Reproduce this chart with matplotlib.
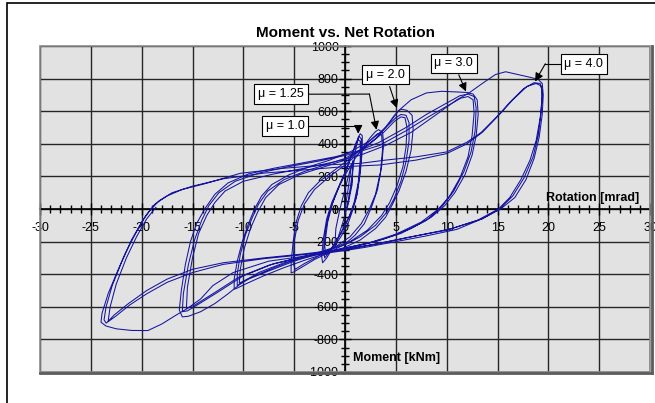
import numpy as np
import matplotlib
matplotlib.use("Agg")
import matplotlib.pyplot as plt
from matplotlib.ticker import MultipleLocator
from matplotlib.patches import Rectangle

plt.rcParams['font.family'] = ['Liberation Sans', 'DejaVu Sans']
plt.rcParams['axes.unicode_minus'] = False

# hysteresis path: (rotation mrad, moment kNm)
loop_elastic = [(0, 0), (0.3, 120), (0.6, 250), (0.8, 300), (0.7, 180), (0.3, 40), (-0.2, -80),
                (-0.7, -180), (-1.0, -230), (-0.9, -120), (-0.5, 0), (0, 120), (0.5, 240),
                (0.8, 290), (0.7, 150), (0.2, 0)]

loop_mu1 = [(0.2, 0), (0.5, 120), (0.8, 260), (1.1, 380), (1.3, 440), (1.5, 462), (1.7, 450),
            (1.7, 360), (1.5, 220), (1.2, 90), (0.8, 0), (0.3, -90), (-0.4, -170), (-1.2, -240),
            (-1.8, -300), (-2.2, -330), (-2.3, -290), (-2.1, -170), (-1.8, -60), (-1.3, 40),
            (-0.6, 140), (0.1, 240), (0.7, 340), (1.1, 410), (1.4, 445), (1.6, 430), (1.6, 330),
            (1.4, 190), (1.1, 70), (0.6, -20), (0, -100), (-0.8, -190), (-1.5, -260), (-2.0, -300),
            (-2.1, -250), (-1.9, -120), (-1.5, -10), (-0.9, 90), (-0.2, 190), (0.5, 300),
            (1.0, 380), (1.3, 425), (1.5, 415), (1.5, 300), (1.3, 160), (0.9, 40), (0.4, -50),
            (-0.4, -150), (-1.2, -230), (-1.9, -280), (-2.0, -220), (-1.7, -80), (-1.2, 40),
            (-0.5, 150), (0.2, 230)]

loop_mu125 = [(0.2, 230), (1.0, 310), (1.8, 380), (2.5, 440), (3.0, 475), (3.3, 487), (3.7, 470),
              (3.8, 400), (3.6, 260), (3.2, 120), (2.6, 10), (1.9, -90), (1.0, -160), (0, -215),
              (-1.5, -265), (-3.0, -310), (-4.2, -355), (-5.0, -385), (-5.3, -392), (-5.3, -330),
              (-5.1, -200), (-4.8, -80), (-4.3, 20), (-3.6, 100), (-2.5, 170), (-1.0, 240),
              (0.5, 310), (1.8, 380), (2.7, 435), (3.2, 462), (3.6, 455), (3.7, 370), (3.5, 230),
              (3.0, 90), (2.4, 0), (1.6, -90), (0.5, -170), (-1.0, -235), (-2.5, -285),
              (-4.0, -335), (-4.9, -370), (-5.1, -330), (-5.0, -200), (-4.6, -70), (-4.0, 30),
              (-3.0, 120), (-1.5, 200), (0, 270)]

loop_mu2 = [(0, 270), (1.5, 350), (3.0, 430), (4.0, 500), (4.8, 570), (5.3, 605), (5.6, 612),
            (6.1, 605), (6.6, 575), (6.7, 490), (6.5, 360), (6.0, 230), (5.3, 110), (4.6, 20),
            (4.0, -50), (3.0, -120), (1.5, -190), (0, -235), (-2, -275), (-4, -315), (-6, -360),
            (-8, -410), (-9.6, -455), (-10.6, -485), (-10.9, -492), (-10.9, -430), (-10.6, -320),
            (-10.1, -200), (-9.5, -90), (-8.9, 0), (-8.2, 80), (-7.2, 150), (-5.5, 210),
            (-3.5, 260), (-1.5, 300), (0.5, 350), (2.5, 420), (4.0, 500), (5.0, 560), (5.5, 580),
            (6.0, 575), (6.3, 530), (6.3, 420), (6.0, 290), (5.5, 170), (4.8, 60), (4.1, -20),
            (3.0, -100), (1.5, -170), (0, -220), (-2.5, -270), (-5, -320), (-7.5, -380),
            (-9.5, -430), (-10.6, -470), (-10.6, -400), (-10.3, -280), (-9.8, -160), (-9.1, -50),
            (-8.5, 30), (-7.6, 110), (-6, 180), (-4, 230), (-2, 270), (0, 310), (2, 380),
            (3.8, 470), (4.9, 540), (5.5, 565), (5.9, 560), (6.1, 500), (6.0, 380), (5.7, 260),
            (5.1, 140), (4.4, 40), (3.6, -40), (2.2, -130), (0.5, -200), (-2, -255), (-4.5, -300),
            (-7, -360), (-9.3, -420), (-10.4, -455), (-10.3, -370), (-9.9, -240), (-9.3, -120),
            (-8.6, -20), (-7.8, 70), (-6.5, 150), (-4.5, 210), (-2, 260), (0, 300)]

loop_mu3 = [(0, 300), (1.5, 360), (3, 430), (4.5, 540), (5.3, 605), (6.5, 670), (8.0, 712),
            (9.5, 722), (11.0, 718), (12.0, 715), (12.6, 705), (13.0, 670), (13.1, 580),
            (12.9, 450), (12.5, 330), (11.8, 210), (10.8, 100), (9.8, 20), (8.5, -50),
            (6.5, -120), (4.0, -180), (2.0, -215), (0, -245), (-3, -285), (-6, -330),
            (-8.5, -390), (-10.3, -460), (-11.5, -520), (-12.8, -580), (-14.2, -630),
            (-15.4, -658), (-16.0, -662), (-16.3, -620), (-16.1, -500), (-15.7, -340),
            (-15.2, -200), (-14.6, -90), (-13.8, 0), (-12.8, 90), (-11.5, 160), (-9.5, 215),
            (-7, 250), (-4, 285), (-1, 320), (1.5, 360), (3.4, 410), (6, 500), (8, 580),
            (10, 650), (11.3, 695), (12.1, 705), (12.7, 690), (12.9, 620), (12.8, 480),
            (12.4, 350), (11.7, 230), (10.7, 110), (9.6, 20), (8.0, -70), (5.5, -150), (3, -200),
            (0, -240), (-3.5, -285), (-7, -335), (-10, -410), (-12.5, -510), (-14.3, -580),
            (-15.5, -625), (-16.0, -630), (-15.9, -520), (-15.4, -340), (-14.8, -190),
            (-14.1, -70), (-13.4, 20), (-12.4, 100), (-10.8, 170), (-8.5, 220), (-5.5, 260),
            (-2.5, 295), (0.5, 335), (3.4, 390), (6, 480), (8.2, 565), (10, 630), (11.4, 680),
            (12.1, 690), (12.6, 670), (12.7, 590), (12.5, 450), (12.1, 320), (11.3, 190),
            (10.3, 80), (9.2, 0), (7.5, -80), (5, -155), (2.5, -205), (0, -240), (-4, -290),
            (-7.5, -345), (-10.5, -420), (-13, -520), (-14.8, -590), (-15.6, -610),
            (-15.5, -480), (-15.0, -300), (-14.4, -150), (-13.6, -40), (-12.8, 40),
            (-11.8, 110), (-10, 170)]

loop_mu4 = [(-10, 170), (-7, 215), (-4, 250), (-1, 290), (1.5, 330), (4, 390), (6.5, 470),
            (9, 580), (11, 670), (12.2, 712), (13.5, 770), (14.8, 825), (15.8, 842), (17, 825),
            (18.2, 808), (19.0, 795), (19.4, 770), (19.5, 700), (19.4, 580), (19.1, 440),
            (18.6, 310), (17.8, 180), (16.7, 70), (15.3, 0), (13.5, -60), (11, -125), (8, -165),
            (5, -200), (2, -235), (0, -255), (-3.5, -285), (-7.5, -320), (-11, -390),
            (-13, -470), (-14.2, -552), (-15.5, -610), (-16.8, -658), (-18, -705),
            (-19.4, -746), (-21, -745), (-22.5, -735), (-23.5, -718), (-24.0, -695),
            (-23.9, -640), (-23.3, -520), (-22.5, -400), (-21.6, -270), (-20.6, -150),
            (-19.6, -40), (-18.7, 30), (-17.5, 80), (-16, 120), (-13.6, 158), (-10.3, 219),
            (-6, 250), (-2, 270), (1.5, 280), (4, 300), (7, 320), (10, 350), (12, 410),
            (13.4, 470), (15, 570), (16.3, 660), (17.6, 740), (18.6, 775), (19.2, 770),
            (19.4, 720), (19.3, 600), (19.0, 450), (18.5, 320), (17.6, 190), (16.5, 80),
            (15.2, 0), (13.5, -60), (10.5, -120), (7, -165), (3.5, -210), (0, -250), (-4, -280),
            (-8, -305), (-12, -340), (-15, -390), (-17.5, -450), (-19.5, -520), (-21.2, -590),
            (-22.6, -660), (-23.5, -700), (-23.7, -680), (-23.5, -600), (-22.9, -470),
            (-22, -330), (-21, -190), (-20, -80), (-19.2, -10), (-18.3, 50), (-17, 100),
            (-15, 140), (-12, 185), (-8, 220), (-4, 240), (0, 260), (3.4, 270), (7, 300),
            (10, 340), (12, 400), (13.5, 470), (15.2, 580), (16.5, 670), (17.9, 752),
            (18.8, 770), (19.3, 755), (19.4, 690), (19.2, 560), (18.8, 420), (18.2, 300),
            (17.3, 180), (16.2, 70), (15.1, 0), (13, -70), (10, -130), (6.5, -170), (3, -215),
            (0, -245), (-4, -275), (-8, -300), (-12, -330), (-15, -370), (-17.5, -430),
            (-19.5, -500), (-21.3, -580), (-22.7, -650), (-23.3, -690), (-23.1, -600),
            (-22.5, -460), (-21.5, -300), (-20.5, -170), (-19.5, -60), (-18.6, 10)]

# ductility labels: text, text box (x, y), bend point (x, y) or None, arrow tip (x, y)
mu_labels = ['\u03bc = 1.0', '\u03bc = 1.25', '\u03bc = 2.0', '\u03bc = 3.0', '\u03bc = 4.0']
mu_box = [(-5.9, 510), (-6.3, 704), (4.0, 824), (10.7, 894), (23.5, 891)]
mu_bend = [(1.3, 510), (2.4, 705), None, None, (19.7, 891)]
mu_tip = [(1.3, 462), (3.1, 486), (5.1, 619), (11.9, 721), (18.7, 782)]

fig = plt.figure(figsize=(6.55, 4.03), dpi=100)
ax = fig.add_axes([40 / 655, 1 - 372 / 403, 610 / 655, 326 / 403])
ax.set_facecolor('#e2e2e2')

for loop in [loop_elastic, loop_mu1, loop_mu125, loop_mu2, loop_mu3, loop_mu4]:
    pts = np.array(loop)
    ax.plot(pts[:, 0], pts[:, 1], color='#1414a0', lw=0.75, zorder=3)

ax.set_xlim(-30, 30)
ax.set_ylim(-1000, 1000)
ax.xaxis.set_major_locator(MultipleLocator(5))
ax.xaxis.set_minor_locator(MultipleLocator(1))
ax.yaxis.set_major_locator(MultipleLocator(200))
ax.yaxis.set_minor_locator(MultipleLocator(50))
ax.grid(which='major', color='#262626', lw=1.0)
ax.set_axisbelow(True)

ax.spines['left'].set_position(('data', 0))
ax.spines['bottom'].set_position(('data', 0))
ax.spines['top'].set_visible(False)
ax.spines['right'].set_visible(False)
for s in ['left', 'bottom']:
    ax.spines[s].set_color('black')
    ax.spines[s].set_linewidth(1.2)
    ax.spines[s].set_zorder(2.6)

ax.tick_params(which='both', direction='inout', colors='black', labelsize=9, width=1)
ax.tick_params(which='major', length=8)
ax.tick_params(which='minor', length=6)
ax.tick_params(axis='x', pad=5)
ax.tick_params(axis='y', pad=0.5)

# plot area frame with shadow
ax.add_patch(Rectangle((0, 0), 1, 1, transform=ax.transAxes, fill=False,
                       edgecolor='#8a8a8a', lw=1.2, clip_on=False, zorder=4))
ax.plot([1.003, 1.003], [-0.004, 1.0], transform=ax.transAxes, color='#5c5c5c', lw=2,
        clip_on=False, zorder=4)
ax.plot([0.0, 1.003], [-0.004, -0.004], transform=ax.transAxes, color='#5c5c5c', lw=2,
        clip_on=False, zorder=4)

# figure border (cut off at right and bottom)
fig.patches.append(Rectangle((7 / 655, -0.1), 1.1, 1.1 - 3 / 403, transform=fig.transFigure,
                             fill=False, edgecolor='black', lw=1.2))

fig.text(345 / 655, 1 - 33 / 403, 'Moment vs. Net Rotation', ha='center', va='center',
         fontsize=11, fontweight='bold')
ax.text(28.9, 68, 'Rotation [mrad]', ha='right', va='center', fontsize=9, fontweight='bold',
        zorder=5)
ax.text(0.8, -916, 'Moment [kNm]', ha='left', va='center', fontsize=9, fontweight='bold',
        zorder=5)

for lab, box, bend, tip in zip(mu_labels, mu_box, mu_bend, mu_tip):
    t = ax.text(box[0], box[1], lab, ha='center', va='center', fontsize=9, zorder=6,
                bbox=dict(boxstyle='square,pad=0.3', fc='white', ec='black', lw=0.8))
    start = box
    if bend is not None:
        ax.plot([box[0], bend[0]], [box[1], bend[1]], color='black', lw=0.8, zorder=5)
        start = bend
    ax.annotate('', xy=tip, xytext=start, zorder=5,
                arrowprops=dict(arrowstyle='-|>,head_length=0.5,head_width=0.25',
                                color='black', lw=0.8, shrinkA=0 if bend else 9, shrinkB=0))

fig.savefig('out.png', dpi=100)
